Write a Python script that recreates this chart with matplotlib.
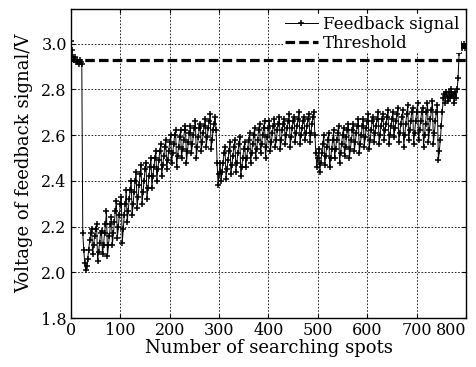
import numpy as np
import matplotlib
matplotlib.use("Agg")
import matplotlib.pyplot as plt

# searching spots (every 2nd spot sampled)
spots = list(range(0, 801, 2))

start_vals = [3.01, 2.97, 2.94, 2.93, 2.94, 2.92, 2.93, 2.92, 2.91, 2.93, 2.92, 2.91]

cycles = [
    [2.17, 2.10, 2.04, 2.01, 2.03],
    [2.06, 2.10, 2.14, 2.17, 2.19],
    [2.08, 2.12, 2.16, 2.19, 2.21],
    [2.05, 2.09, 2.13, 2.17, 2.18],
    [2.08, 2.12, 2.17, 2.21, 2.27],
    [2.07, 2.12, 2.16, 2.21, 2.24],
    [2.12, 2.17, 2.22, 2.27, 2.31],
    [2.15, 2.20, 2.25, 2.30, 2.33],
    [2.13, 2.19, 2.25, 2.30, 2.36],
    [2.22, 2.27, 2.32, 2.36, 2.40],
    [2.25, 2.30, 2.35, 2.40, 2.44],
    [2.28, 2.33, 2.38, 2.43, 2.47],
    [2.30, 2.35, 2.40, 2.45, 2.48],
    [2.32, 2.37, 2.42, 2.46, 2.50],
    [2.37, 2.42, 2.46, 2.50, 2.53],
    [2.40, 2.45, 2.49, 2.53, 2.56],
    [2.42, 2.47, 2.51, 2.55, 2.58],
    [2.45, 2.49, 2.53, 2.57, 2.60],
    [2.48, 2.52, 2.56, 2.60, 2.62],
    [2.46, 2.51, 2.55, 2.59, 2.62],
    [2.50, 2.54, 2.58, 2.62, 2.64],
    [2.48, 2.53, 2.57, 2.61, 2.64],
    [2.52, 2.56, 2.60, 2.63, 2.66],
    [2.50, 2.55, 2.59, 2.63, 2.65],
    [2.53, 2.57, 2.61, 2.64, 2.67],
    [2.55, 2.59, 2.63, 2.66, 2.69],
    [2.54, 2.58, 2.62, 2.65, 2.68],
    [2.62, 2.48, 2.38, 2.43, 2.48],
    [2.40, 2.44, 2.48, 2.52, 2.55],
    [2.41, 2.45, 2.49, 2.53, 2.57],
    [2.43, 2.47, 2.51, 2.55, 2.58],
    [2.44, 2.48, 2.52, 2.56, 2.59],
    [2.42, 2.46, 2.50, 2.54, 2.57],
    [2.46, 2.50, 2.54, 2.58, 2.61],
    [2.48, 2.52, 2.56, 2.60, 2.63],
    [2.50, 2.54, 2.58, 2.62, 2.65],
    [2.52, 2.56, 2.60, 2.63, 2.66],
    [2.50, 2.55, 2.59, 2.63, 2.66],
    [2.53, 2.57, 2.61, 2.64, 2.67],
    [2.55, 2.58, 2.62, 2.65, 2.68],
    [2.54, 2.58, 2.62, 2.65, 2.67],
    [2.56, 2.60, 2.63, 2.66, 2.69],
    [2.55, 2.59, 2.63, 2.66, 2.68],
    [2.57, 2.61, 2.64, 2.67, 2.70],
    [2.56, 2.60, 2.63, 2.66, 2.68],
    [2.58, 2.61, 2.64, 2.67, 2.69],
    [2.57, 2.61, 2.65, 2.68, 2.70],
    [2.60, 2.52, 2.46, 2.50, 2.54],
    [2.44, 2.48, 2.52, 2.56, 2.60],
    [2.47, 2.51, 2.55, 2.58, 2.61],
    [2.46, 2.50, 2.54, 2.58, 2.62],
    [2.50, 2.54, 2.58, 2.61, 2.64],
    [2.48, 2.52, 2.56, 2.60, 2.63],
    [2.51, 2.55, 2.59, 2.62, 2.65],
    [2.50, 2.54, 2.58, 2.62, 2.65],
    [2.53, 2.57, 2.61, 2.64, 2.67],
    [2.52, 2.56, 2.60, 2.64, 2.67],
    [2.55, 2.59, 2.63, 2.66, 2.69],
    [2.54, 2.58, 2.62, 2.66, 2.68],
    [2.57, 2.61, 2.64, 2.67, 2.70],
    [2.56, 2.60, 2.64, 2.67, 2.69],
    [2.58, 2.62, 2.65, 2.68, 2.71],
    [2.56, 2.60, 2.64, 2.67, 2.70],
    [2.59, 2.63, 2.66, 2.69, 2.72],
    [2.57, 2.61, 2.65, 2.68, 2.71],
    [2.55, 2.60, 2.65, 2.69, 2.73],
    [2.58, 2.62, 2.66, 2.70, 2.72],
    [2.56, 2.61, 2.66, 2.70, 2.74],
    [2.58, 2.62, 2.66, 2.70, 2.72],
    [2.55, 2.60, 2.65, 2.70, 2.74],
    [2.57, 2.62, 2.67, 2.71, 2.75],
    [2.56, 2.61, 2.66, 2.70, 2.73],
    [2.49, 2.53, 2.58, 2.64, 2.70],
    [2.76, 2.78, 2.74, 2.79, 2.77],
    [2.75, 2.79, 2.76, 2.80, 2.77],
    [2.78, 2.74, 2.79, 2.76, 2.80],
]

end_vals = [2.85, 2.96, 2.99, 3.00, 2.98, 2.99, 3.00, 2.98, 2.99]

feedback = start_vals + [v for c in cycles for v in c] + end_vals
threshold = 2.93

xticks = [0, 100, 200, 300, 400, 500, 600, 700, 800]
yticks = [1.8, 2.0, 2.2, 2.4, 2.6, 2.8, 3.0]

plt.rcParams['font.family'] = ['DejaVu Serif']

fig = plt.figure(figsize=(4.76, 3.67), dpi=100)
ax = fig.add_axes([0.149, 0.133, 0.830, 0.842])

n = min(len(spots), len(feedback))
ax.plot(spots[:n], feedback[:n], color='black', lw=0.7, marker='+', ms=4,
        mew=1.1, label='Feedback signal', zorder=3)
ax.axhline(threshold, color='black', lw=2.3, dashes=(3.0, 1.3),
           label='Threshold', zorder=2)

ax.set_xlim(0, 800)
ax.set_ylim(1.8, 3.15)
ax.set_xticks(xticks)
ax.set_yticks(yticks)
ax.set_yticklabels([f"{t:.1f}" for t in yticks])
ax.tick_params(direction='in', top=True, right=True, labelsize=11.5,
               length=3, width=0.8, pad=3)
for lab in ax.get_xticklabels():
    if lab.get_text() == '800':
        lab.set_horizontalalignment('right')

ax.grid(True, color='black', linestyle=(0, (2, 2)), lw=0.6)
for s in ax.spines.values():
    s.set_linewidth(1.0)

ax.set_xlabel('Number of searching spots', fontsize=13, labelpad=0)
ax.set_ylabel('Voltage of feedback signal/V', fontsize=13, labelpad=6)

leg = ax.legend(loc='upper right', fontsize=12, frameon=True, fancybox=False,
                framealpha=1, edgecolor='none', borderaxespad=0.3,
                borderpad=0.1, handlelength=2.0, handletextpad=0.3,
                labelspacing=0.1)

fig.savefig('out.png', dpi=100)
